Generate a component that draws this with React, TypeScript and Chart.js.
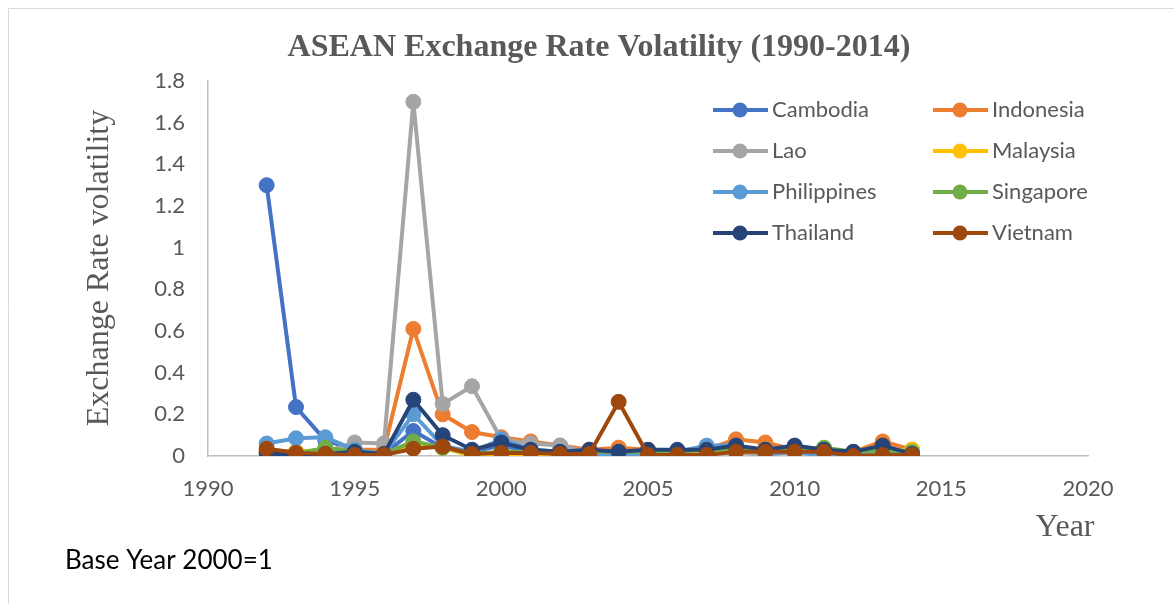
import React, { useEffect, useRef } from "react";
import { Chart, registerables } from "chart.js";

Chart.register(...registerables);

const years = [1992, 1993, 1994, 1995, 1996, 1997, 1998, 1999, 2000, 2001, 2002, 2003, 2004, 2005, 2006, 2007, 2008, 2009, 2010, 2011, 2012, 2013, 2014];

const cambodia = [1.30, 0.235, 0.075, 0.03, 0.01, 0.12, 0.04, 0.02, 0.05, 0.02, 0.02, 0.01, 0.01, 0.01, 0.01, 0.02, 0.02, 0.01, 0.02, 0.01, 0.01, 0.02, 0.01];
const indonesia = [0.03, 0.02, 0.02, 0.03, 0.03, 0.61, 0.20, 0.115, 0.09, 0.07, 0.05, 0.03, 0.04, 0.03, 0.02, 0.03, 0.08, 0.065, 0.03, 0.02, 0.02, 0.07, 0.03];
const lao = [0.02, 0.02, 0.02, 0.065, 0.06, 1.70, 0.25, 0.335, 0.08, 0.06, 0.05, 0.02, 0.02, 0.01, 0.01, 0.02, 0.02, 0.005, 0.02, 0.005, 0.01, 0.02, 0.01];
const malaysia = [0.02, 0.02, 0.03, 0.01, 0.01, 0.05, 0.04, 0.0, 0.0, 0.0, 0.0, 0.0, 0.01, 0.01, 0.01, 0.01, 0.02, 0.02, 0.02, 0.03, 0.01, 0.02, 0.03];
const philippines = [0.06, 0.085, 0.09, 0.03, 0.01, 0.20, 0.05, 0.02, 0.08, 0.03, 0.02, 0.01, 0.0, 0.01, 0.02, 0.05, 0.05, 0.01, 0.02, 0.0, 0.01, 0.03, 0.01];
const singapore = [0.02, 0.01, 0.04, 0.02, 0.01, 0.07, 0.04, 0.01, 0.02, 0.02, 0.01, 0.02, 0.02, 0.02, 0.02, 0.03, 0.03, 0.03, 0.03, 0.04, 0.02, 0.03, 0.02];
const thailand = [0.01, 0.01, 0.01, 0.02, 0.01, 0.27, 0.10, 0.03, 0.065, 0.03, 0.02, 0.03, 0.02, 0.03, 0.03, 0.03, 0.05, 0.03, 0.05, 0.03, 0.02, 0.05, 0.01];
const vietnam = [0.035, 0.015, 0.01, 0.005, 0.005, 0.035, 0.045, 0.01, 0.015, 0.015, 0.01, 0.01, 0.26, 0.005, 0.005, 0.005, 0.02, 0.02, 0.02, 0.02, 0.0, 0.005, 0.005];

const seriesNames = ["Cambodia", "Indonesia", "Lao", "Malaysia", "Philippines", "Singapore", "Thailand", "Vietnam"];
const seriesValues = [cambodia, indonesia, lao, malaysia, philippines, singapore, thailand, vietnam];
const seriesColors = ["#4472C4", "#ED7D31", "#A5A5A5", "#FFC000", "#5B9BD5", "#70AD47", "#264478", "#9E480E"];

const titleText = "ASEAN Exchange Rate Volatility (1990-2014)";
const yTitleText = "Exchange Rate volatility";
const xTitleText = "Year";
const noteText = "Base Year 2000=1";

const SANS = "Lato, 'Open Sans', sans-serif";
const SERIF = "'Liberation Serif', 'DejaVu Serif', serif";

const decorPlugin = {
  id: "decor",
  afterDraw(chart: any) {
    const ctx = chart.ctx as CanvasRenderingContext2D;
    ctx.save();
    // frame
    ctx.strokeStyle = "#D9D9D9";
    ctx.lineWidth = 1;
    ctx.beginPath();
    ctx.moveTo(8.5, 604);
    ctx.lineTo(8.5, 8.5);
    ctx.lineTo(1174, 8.5);
    ctx.stroke();

    // title
    ctx.fillStyle = "#595959";
    ctx.font = `bold 32px ${SERIF}`;
    ctx.textAlign = "center";
    ctx.textBaseline = "middle";
    ctx.fillText(titleText, 599, 48);

    // y title
    ctx.save();
    ctx.translate(100, 268);
    ctx.rotate(-Math.PI / 2);
    ctx.font = `32px ${SERIF}`;
    ctx.fillText(yTitleText, 0, 0);
    ctx.restore();

    // x title
    ctx.font = `32px ${SERIF}`;
    ctx.fillText(xTitleText, 1065, 528);

    // note
    ctx.fillStyle = "#000000";
    ctx.font = `26px ${SANS}`;
    ctx.textAlign = "left";
    ctx.fillText(noteText, 65, 561);

    // legend
    const rows = [110, 151, 192, 233];
    const cols = [713, 933];
    seriesNames.forEach((name, i) => {
      const cx = cols[i % 2];
      const cy = rows[Math.floor(i / 2)];
      ctx.strokeStyle = seriesColors[i];
      ctx.lineWidth = 4;
      ctx.beginPath();
      ctx.moveTo(cx, cy);
      ctx.lineTo(cx + 55, cy);
      ctx.stroke();
      ctx.fillStyle = seriesColors[i];
      ctx.beginPath();
      ctx.arc(cx + 27, cy, 7.5, 0, Math.PI * 2);
      ctx.fill();
      ctx.fillStyle = "#595959";
      ctx.font = `22px ${SANS}`;
      ctx.textAlign = "left";
      ctx.fillText(name, cx + 59, cy);
    });
    ctx.restore();
  },
};

export default function App() {
  const ref = useRef<HTMLCanvasElement>(null);
  useEffect(() => {
    document.body.style.margin = "0";
    const datasets = seriesNames.map((name, i) => ({
      label: name,
      data: years.map((y, j) => ({ x: y, y: seriesValues[i][j] })),
      borderColor: seriesColors[i],
      backgroundColor: seriesColors[i],
      pointBackgroundColor: seriesColors[i],
      pointBorderColor: seriesColors[i],
      borderWidth: 4,
      pointRadius: 7.5,
      pointBorderWidth: 1,
      tension: 0,
      order: seriesNames.length - i,
    }));
    const chart = new Chart(ref.current!, {
      type: "line",
      data: { datasets },
      options: {
        animation: false,
        responsive: false,
        layout: { padding: { top: 81, right: 86, left: 0, bottom: 0 } },
        plugins: { legend: { display: false }, title: { display: false }, tooltip: { enabled: false } },
        scales: {
          x: {
            type: "linear",
            min: 1990,
            max: 2020,
            afterFit: (s: any) => { s.height = 148; },
            ticks: { stepSize: 5, padding: 12, color: "#595959", font: { family: SANS, size: 22 }, maxRotation: 0, callback: (v: any) => String(v) },
            grid: { display: false },
            border: { display: true, color: "#BFBFBF", width: 1.5 },
          },
          y: {
            min: 0,
            max: 1.8,
            afterFit: (s: any) => { s.width = 208; },
            ticks: { stepSize: 0.2, padding: 15, color: "#595959", font: { family: SANS, size: 22 }, callback: (v: any) => String(Math.round(Number(v) * 10) / 10) },
            grid: { display: false },
            border: { display: true, color: "#BFBFBF", width: 1.5 },
          },
        },
      },
      plugins: [decorPlugin],
    });
    return () => chart.destroy();
  }, []);
  return (
    <div style={{ position: "absolute", left: 0, top: 0, width: 1174, height: 604, background: "#fff" }}>
      <canvas ref={ref} width={1174} height={604} style={{ width: 1174, height: 604 }} />
    </div>
  );
}
